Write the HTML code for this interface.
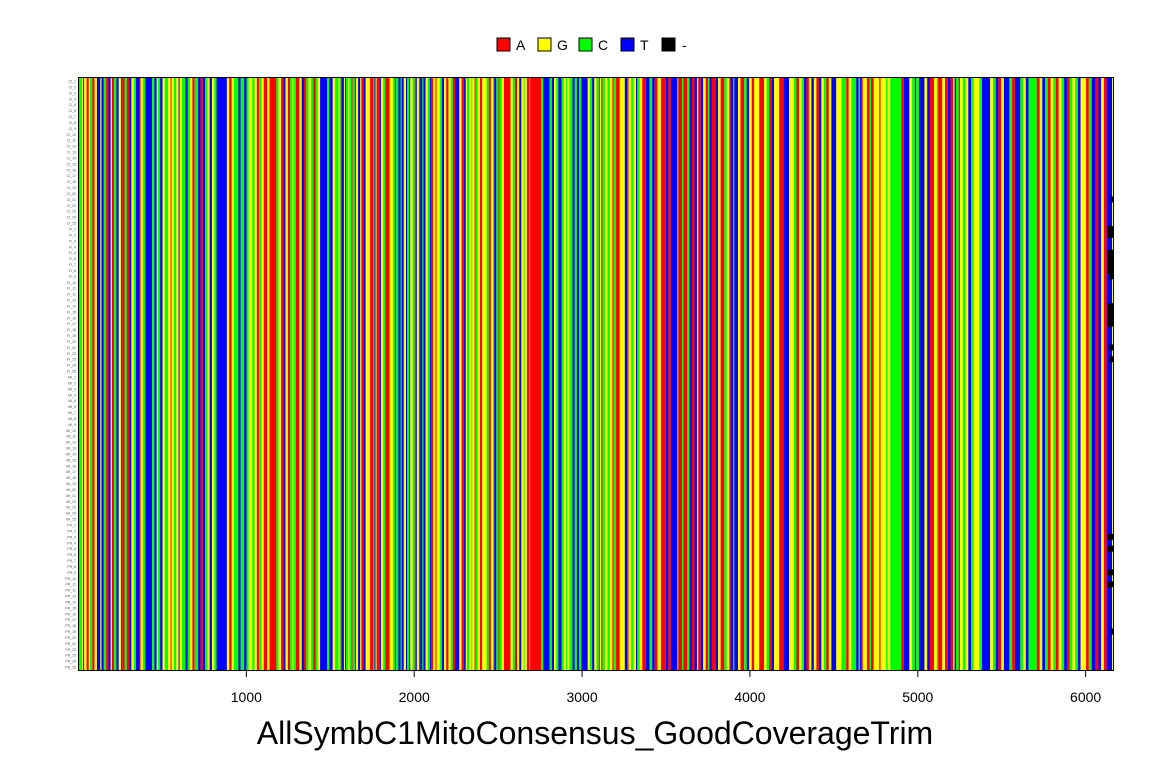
<!DOCTYPE html>
<html><head><meta charset="utf-8"><style>
body{margin:0;background:#fff;width:1152px;height:768px;overflow:hidden;font-family:"Liberation Sans",sans-serif}
</style></head><body>
<svg id="chart" width="1152" height="768" xmlns="http://www.w3.org/2000/svg">
<g id="legend" font-size="14" font-family="Liberation Sans, sans-serif">
<g><rect x="497" y="38" width="13" height="13" fill="#f00" stroke="#000"/><text x="516" y="50">A</text></g>
<g><rect x="538" y="38" width="13" height="13" fill="#ff0" stroke="#000"/><text x="557" y="50">G</text></g>
<g><rect x="579" y="38" width="13" height="13" fill="#0f0" stroke="#000"/><text x="598" y="50">C</text></g>
<g><rect x="621" y="38" width="13" height="13" fill="#00f" stroke="#000"/><text x="640" y="50">T</text></g>
<g><rect x="662" y="38" width="13" height="13" fill="#000" stroke="#000"/><text x="682" y="50">-</text></g>
</g>
<g id="cols"></g>
<g id="gaps"></g>
<g id="rowlabels"></g>
<rect x="78.5" y="77.5" width="1035" height="593" fill="none" stroke="#000"/>
<g id="xaxis"></g>
<text x="595" y="744" font-size="32" text-anchor="middle">AllSymbC1MitoConsensus_GoodCoverageTrim</text>
</svg>
<script>
const segStarts=[0,1549,3099,4648,6166];
const segRuns=[
"G3Y1B1Y2R2Y1G2R2Y2B3Y1B2G2R2B2Y1R2G2B2Y2B1R2G2R2B2Y2G2B3R1Y2G2B6G2B2Y1G2B2Y2G3Y2R1Y2G2Y2B1Y2G3B2G2Y2R2G3B2R2B2G2Y2B2Y2G2B9Y2R2Y2G4B2G3B2G2Y3G2Y2R2G2Y2R3Y2R6G2Y2R2B2Y2R2G2Y1G2R3Y2B2R2G2Y2G2R2G2Y2B6G2B3Y2G3",
"Y1G1R1B2Y1B1G2Y1G2R1G2B1Y2B2Y1R2B2Y4R3G1B1Y1R3B1Y2G2R4Y3G2B1G2B2G1B2Y2B1G2B1Y2G2R1B1Y2R1B2G1B2Y2G2B1R2Y2R1Y3G2B2Y2R2Y2G2R2B4Y2R2B2Y1G2Y2G1Y2R1G2Y2R2Y4G2R2Y2G1B2G2R1G2Y2R6Y2G2R2Y2B2Y2G1Y2R2G1R10G2B6G2B2Y2G2B3G2Y2G1Y2G3B2G2B2G2B6Y2G2B2Y2G2",
"R1Y1R1G2Y2G2Y2R1G2R3Y4B2R1Y2G2Y2B1G2Y2R3B3G2B2R2G1Y2R4B2R2B5G1R3G1R3G2B2R2B2Y1R2B2Y2R2G1B2R3B2Y2R3G2Y2R1B2G1B3Y2R3G2B2Y2R2Y4R4Y2G2R2B2Y4R4B4Y4G2R2Y2G2B2R2Y2B2Y2R2B2Y2G2R2Y2B4Y4G4R2Y2G4B2",
"G1B1R1Y3R2G1R2Y4R1Y4G1Y2G8R2B4Y2G2B1G2B4Y2B2R3Y2G1R3Y2R2B2R2Y1B1G2R1Y2G2Y2B2G2Y4G2B6Y2G2B2R2Y2B4G2R2B4G2Y2B2G6R2Y2B2G2R2Y2G2R2Y2G2B2R2G2Y2G2B2Y4R2G2B3R2B2Y2R2B4Y1"];
const gapRows=[20,25,26,29,30,31,32,33,38,39,40,41,45,47,77,79,83,85,93];
const gapStart=[6150,6130,6130,6130,6130,6130,6130,6140,6130,6130,6130,6130,6140,6140,6130,6130,6130,6130,6150];
const xTicks=[1000,2000,3000,4000,5000,6000];
const nRows=100;
// run codes: R=A(red), Y=G(yellow), G=C(green), B=T(blue)
const colors={R:"#f00",Y:"#ff0",G:"#0f0",B:"#00f"};
const X0=78.5,X1=1113.5,Y0=78,Y1=670,maxPos=6166;
const x=v=>X0+(v/maxPos)*(X1-X0);
const rowY=r=>Y0+r*(Y1-Y0)/nRows;
const NS="http://www.w3.org/2000/svg";
const cols=document.getElementById('cols');
segRuns.forEach((s,i)=>{
  const runs=[...s.matchAll(/([A-Z])(\d+)/g)].map(m=>[m[1],+m[2]]);
  const tot=runs.reduce((a,r)=>a+r[1],0);
  let acc=0;
  runs.forEach(([c,n])=>{
    const p0=segStarts[i]+(segStarts[i+1]-segStarts[i])*acc/tot;
    acc+=n;
    const p1=segStarts[i]+(segStarts[i+1]-segStarts[i])*acc/tot;
    const r=document.createElementNS(NS,'rect');
    r.setAttribute('x',x(p0));r.setAttribute('width',Math.max(0.5,x(p1)-x(p0)));
    r.setAttribute('y',Y0);r.setAttribute('height',Y1-Y0);
    r.setAttribute('fill',colors[c]);
    
    
    cols.appendChild(r);
  });
});
const gaps=document.getElementById('gaps');
gapRows.forEach((row,i)=>{
  const r=document.createElementNS(NS,'rect');
  r.setAttribute('x',x(gapStart[i]));r.setAttribute('width',x(6166)-x(gapStart[i]));
  r.setAttribute('y',rowY(row));r.setAttribute('height',(Y1-Y0)/nRows);
  r.setAttribute('fill','#000');
  
  
  gaps.appendChild(r);
});
const rl=document.getElementById('rowlabels');
const pre=["CI","FI","MI","PR"];
for(let i=0;i<nRows;i++){
  const t=document.createElementNS(NS,'text');
  t.setAttribute('x',76);t.setAttribute('y',rowY(i)+4.5);
  t.setAttribute('font-size','3.5');t.setAttribute('text-anchor','end');t.setAttribute('fill','#555');
  t.textContent=pre[Math.floor(i/25)]+"_"+(i%25+1);
  
  
  rl.appendChild(t);
}
const xa=document.getElementById('xaxis');
xTicks.forEach(v=>{
  const l=document.createElementNS(NS,'line');
  l.setAttribute('x1',x(v));l.setAttribute('x2',x(v));l.setAttribute('y1',671);l.setAttribute('y2',677);l.setAttribute('stroke','#000');
  
  
  xa.appendChild(l);
  const t=document.createElementNS(NS,'text');
  t.setAttribute('x',x(v));t.setAttribute('y',702);t.setAttribute('font-size','14');t.setAttribute('text-anchor','middle');
  t.textContent=v;
  
  
  xa.appendChild(t);
});
</script>
</body></html>
